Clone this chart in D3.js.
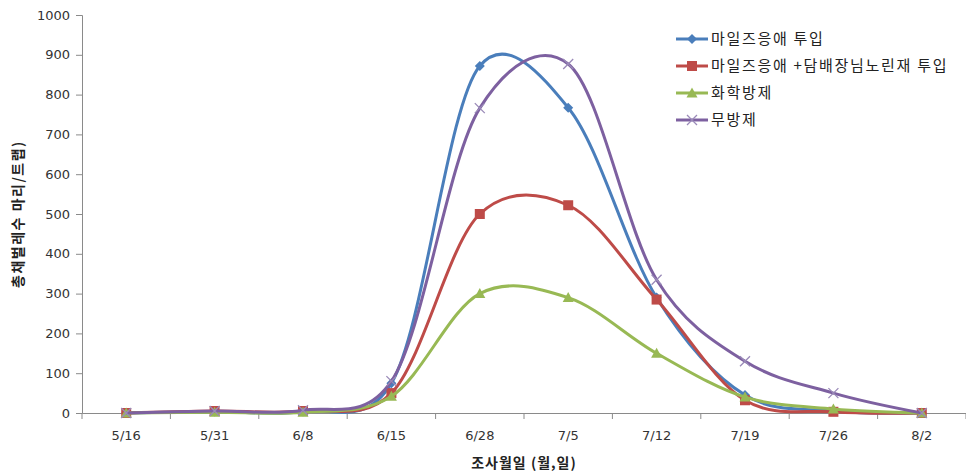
<!DOCTYPE html>
<html><head><meta charset="utf-8">
<script src="https://cdn.jsdelivr.net/npm/d3@7"></script>
<style>
body{margin:0;background:#fff;}
text{font-family:"DejaVu Sans","Noto Sans CJK KR",sans-serif;}
</style></head>
<body><svg id="c" width="966" height="474"></svg>
<script>
const categories = ["5/16","5/31","6/8","6/15","6/28","7/5","7/12","7/19","7/26","8/2"];
const seriesNames = ["마일즈응애 투입","마일즈응애 +담배장님노린재 투입","화학방제","무방제"];
const blueVals   = [0, 4, 4, 75, 872, 767, 290, 45, 5, 0];
const redVals    = [0, 5, 5, 50, 500, 522, 285, 32, 3, 0];
const greenVals  = [0, 2, 2, 42, 300, 290, 150, 40, 10, 0];
const purpleVals = [0, 5, 7, 80, 766, 877, 335, 130, 50, 0];
const yTicks = [0,100,200,300,400,500,600,700,800,900,1000];
const colors = ["#4A7EBB","#BE4B48","#98B954","#7D60A0"];
const markers = ["diamond","square","triangle","x"];

const svg = d3.select("#c");
const m = {l:82, r:0, t:15, b:61};
const W = 966, H = 474;
const x = d3.scaleBand().domain(categories).range([m.l, W - m.r]);
const y = d3.scaleLinear().domain([0,1000]).range([H - m.b, m.t]);
const axisColor = "#8a8a8a";

// Y axis
const ya = svg.append("g").attr("transform",`translate(${m.l},0)`)
  .call(d3.axisLeft(y).tickValues(yTicks).tickFormat(d3.format("d")).tickSize(6).tickPadding(6));
ya.selectAll("path,line").attr("stroke",axisColor);
ya.selectAll("text").attr("font-size",13).attr("fill","#333");

// X axis
const xa = svg.append("g").attr("transform",`translate(0,${y(0)})`)
  .call(d3.axisBottom(x).tickSize(0).tickPadding(18));
xa.selectAll("path").attr("stroke",axisColor);
xa.selectAll("text").attr("font-size",13).attr("fill","#333");
const bounds = d3.range(categories.length + 1).map(i => m.l + i * x.step());
svg.append("g").selectAll("line").data(bounds).join("line")
  .attr("x1",d=>d).attr("x2",d=>d).attr("y1",y(0)).attr("y2",y(0)+6)
  .attr("stroke",axisColor);

// titles
svg.append("text").attr("x",524).attr("y",468).attr("text-anchor","middle")
  .attr("font-size",14).attr("font-weight","bold").attr("fill","#222")
  .attr("letter-spacing",1)
  .style("font-family","'Noto Sans CJK KR'")
  .text("조사월일 (월,일)");
svg.append("text").attr("transform","translate(23,214) rotate(-90)").attr("text-anchor","middle")
  .attr("font-size",14).attr("font-weight","bold").attr("fill","#222")
  .attr("letter-spacing",1.5)
  .style("font-family","'Noto Sans CJK KR'")
  .text("총채벌레수 마리/트랩)");

const allSeries = [blueVals, redVals, greenVals, purpleVals];
const line = d3.line().x((d,i)=>x(categories[i]) + x.bandwidth()/2).y(d=>y(d))
  .curve(d3.curveCatmullRom.alpha(0.15));

function drawMarker(g, type, cx, cy, col){
  if(type==="diamond"){
    g.append("path").attr("d",`M${cx},${cy-5}L${cx+5},${cy}L${cx},${cy+5}L${cx-5},${cy}Z`).attr("fill",col);
  } else if(type==="square"){
    g.append("rect").attr("x",cx-5).attr("y",cy-5).attr("width",10).attr("height",10).attr("fill",col);
  } else if(type==="triangle"){
    g.append("path").attr("d",`M${cx},${cy-5.5}L${cx+5.5},${cy+4.5}L${cx-5.5},${cy+4.5}Z`).attr("fill",col);
  } else {
    g.append("path").attr("d",`M${cx-5},${cy-5}L${cx+5},${cy+5}M${cx+5},${cy-5}L${cx-5},${cy+5}`)
      .attr("stroke",col).attr("stroke-width",1.3).attr("fill","none");
  }
}

allSeries.forEach((vals, si) => {
  const g = svg.append("g");
  g.append("path").datum(vals).attr("d",line).attr("fill","none")
    .attr("stroke",colors[si]).attr("stroke-width",3);
  vals.forEach((v,i)=> drawMarker(g, markers[si], x(categories[i]) + x.bandwidth()/2, y(v), si===3 ? "#9a8ab8" : colors[si]));
});

// legend
const lg = svg.append("g");
seriesNames.forEach((n,i)=>{
  const ly = 39 + i*27;
  lg.append("line").attr("x1",676).attr("x2",708).attr("y1",ly).attr("y2",ly)
    .attr("stroke",colors[i]).attr("stroke-width",3);
  drawMarker(lg, markers[i], 692, ly, i===3 ? "#9a8ab8" : colors[i]);
  lg.append("text").attr("x",711).attr("y",ly+5).attr("font-size",15).attr("fill","#222")
    .attr("letter-spacing",1.7)
    .style("font-family","'Noto Sans CJK KR'").text(n);
});
</script></body></html>
